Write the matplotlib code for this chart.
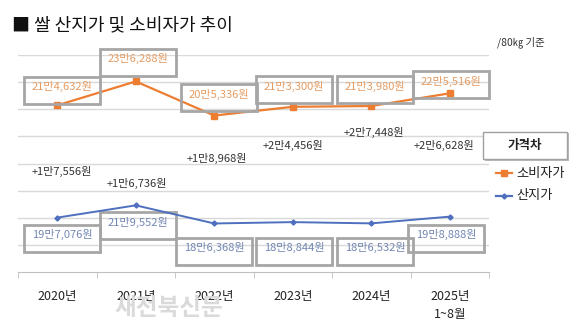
import matplotlib
matplotlib.use("Agg")
import matplotlib.pyplot as plt
from matplotlib.patches import Rectangle
from matplotlib.lines import Line2D
from matplotlib.transforms import blended_transform_factory

plt.rcParams['font.family'] = ['Noto Sans CJK KR', 'DejaVu Sans']

# 연도별 80kg 기준 가격 (원)
years = ['2020년', '2021년', '2022년', '2023년', '2024년', '2025년\n1~8월']
consumer = [214632, 236288, 205336, 213300, 213980, 225516]
producer = [197076, 219552, 186368, 188844, 186532, 198888]

ORANGE = '#ED7D31'
BLUE = '#4F6FBF'
BOX = '#A6A6A6'

W, H = 574, 328


def won(v, sign=''):
    return '%s%d만%s원' % (sign, v // 10000, format(v % 10000, ','))


def fx(px):
    return px / W


def fy(py):
    return 1 - py / H


fig = plt.figure(figsize=(W / 100, H / 100), dpi=100)
ax = fig.add_axes([fx(18), fy(272), fx(489) - fx(18), fy(55) - fy(272)])
ax2 = ax.twinx()

x = list(range(len(years)))
ax.plot(x, consumer, color=ORANGE, lw=1.6, marker='s', ms=4, zorder=5)
ax2.plot(x, producer, color=BLUE, lw=1.4, marker='D', ms=2.6, zorder=5)

# 두 계열의 눈금 범위를 따로 잡는다
ax.set_ylim(63440, 260260)
ax2.set_ylim(97460, 495000)
ax.set_xlim(-0.5, len(years) - 0.5)

for a in (ax, ax2):
    for s in ('top', 'right', 'left'):
        a.spines[s].set_visible(False)
    a.set_yticks([])
ax2.spines['bottom'].set_visible(False)
ax.spines['bottom'].set_color('#BFBFBF')

# 가로 격자
lo, hi = ax.get_ylim()
for k in range(1, 9):
    ax.axhline(lo + k * (hi - lo) / 8, color='#D9D9D9', lw=1, zorder=0)

ax.set_xticks(x)
ax.set_xticklabels(years, fontsize=9, color='#222222', linespacing=1.5)
ax.tick_params(axis='x', which='major', length=0, pad=13)
ax.set_xticks([i - 0.5 for i in range(len(years) + 1)], minor=True)
ax.tick_params(axis='x', which='minor', length=4, color='#BFBFBF', direction='out')

tr = blended_transform_factory(ax.transData, ax.transAxes)

# 값 라벨 상자 (왼쪽 여백, 상자 윗변)
cons_box = [(0.076, 0.899), (0.045, 1.028), (0.076, 0.866),
            (0.032, 0.903), (0.064, 0.903), (0.032, 0.926)]
prod_box = [(0.076, 0.217), (0.045, 0.276), (0.013, 0.157),
            (0.032, 0.157), (0.064, 0.157), (-0.032, 0.217)]
bw, bh = 0.968, 0.124

for vals, boxes, col in ((consumer, cons_box, '#E59C62'), (producer, prod_box, '#7387B3')):
    for i, (v, (dx, top)) in enumerate(zip(vals, boxes)):
        left = i - 0.5 + dx
        ax.add_patch(Rectangle((left, top - bh), bw, bh, transform=tr, fill=False,
                               ec=BOX, lw=2, clip_on=False, zorder=6))
        ax.text(left + bw / 2, top - 0.046, won(v), transform=tr, ha='center',
                va='center', fontsize=8, color=col, zorder=7)

# 가격차 라벨
gap_pos = [(0.064, 0.461), (0.013, 0.406), (0.038, 0.521),
           (0.0, 0.581), (0.038, 0.641), (-0.076, 0.581)]
for i, (c, p) in enumerate(zip(consumer, producer)):
    dx, yy = gap_pos[i]
    ax.text(i + dx, yy, won(c - p, '+'), transform=tr, ha='center', va='center',
            fontsize=8, color='#333333')

# 제목, 단위
fig.text(fx(12), fy(25), '■ 쌀 산지가 및 소비자가 추이', fontsize=13,
         ha='left', va='center', color='#111111')
fig.text(fx(497), fy(42), '/80㎏ 기준', fontsize=7.5, ha='left', va='center',
         color='#333333')

# 범례
fig.add_artist(Rectangle((fx(485), fy(161)), fx(84), fy(132) - fy(161) - 0.004,
                         fc='#BBBBBB', ec='none'))
fig.add_artist(Rectangle((fx(483), fy(159)), fx(84), fy(132) - fy(159),
                         fc='white', ec='#A0A0A0', lw=1))
fig.text(fx(525), fy(146), '가격차', fontsize=9, fontweight='bold',
         ha='center', va='center', color='#222222')
for yy, col, mk, ms, name in ((173, ORANGE, 's', 4, '소비자가'),
                              (196, BLUE, 'D', 2.6, '산지가')):
    fig.add_artist(Line2D([fx(496), fx(512)], [fy(yy), fy(yy)], color=col, lw=1.6))
    fig.add_artist(Line2D([fx(504)], [fy(yy)], color=col, marker=mk, ms=ms))
    fig.text(fx(516), fy(yy), name, fontsize=9.5, ha='left', va='center',
             color='#222222')

# 워터마크
fig.text(fx(169), fy(308), '새전북신문', fontsize=17, fontweight='bold',
         ha='center', va='center', color='#DADADA', zorder=0)

fig.savefig('out.png', dpi=100)
